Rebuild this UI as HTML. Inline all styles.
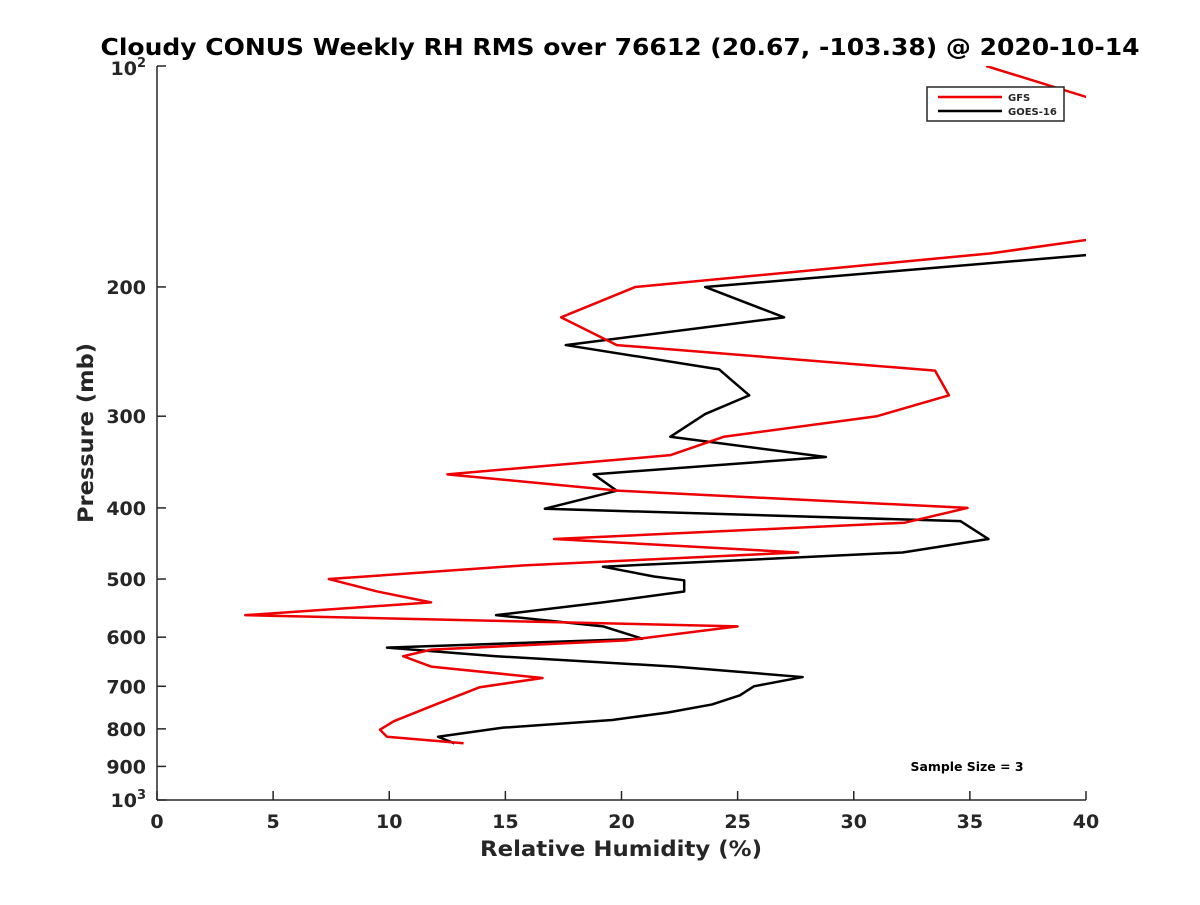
<!DOCTYPE html>
<html><head><meta charset="utf-8"><style>
body{margin:0;background:#fff}
svg text{font-family:"DejaVu Sans","Liberation Sans",sans-serif;font-weight:bold;fill:#262626}
</style></head><body>
<svg id="c" width="1200" height="900" xmlns="http://www.w3.org/2000/svg">
<rect width="1200" height="900" fill="#fff"/>
<text x="620" y="55" text-anchor="middle" font-size="23" textLength="1039" lengthAdjust="spacingAndGlyphs" style="fill:#000">Cloudy CONUS Weekly RH RMS over 76612 (20.67, -103.38) @ 2020-10-14</text>
<g id="axes"></g>
<defs><clipPath id="clip"><rect x="157" y="66" width="929" height="734"/></clipPath></defs>
<g id="series" clip-path="url(#clip)"></g>
<g>
<rect x="927" y="87" width="137" height="34" fill="#fff" stroke="#262626" stroke-width="1.5"/>
<line x1="938" y1="97" x2="1002" y2="97" stroke="#e00" stroke-width="2.5"/>
<text x="1008" y="101" font-size="10">GFS</text>
<line x1="938" y1="111" x2="1002" y2="111" stroke="#000" stroke-width="2.5"/>
<text x="1008" y="115" font-size="10">GOES-16</text>
</g>
<text x="967" y="771" text-anchor="middle" font-size="12" textLength="113" lengthAdjust="spacingAndGlyphs" style="fill:#000">Sample Size = 3</text>
<text x="621" y="856" text-anchor="middle" font-size="21" textLength="282" lengthAdjust="spacingAndGlyphs">Relative Humidity (%)</text>
<text transform="translate(93,433) rotate(-90)" text-anchor="middle" font-size="21" textLength="180" lengthAdjust="spacingAndGlyphs">Pressure (mb)</text>
</svg>
<script>
const xTicks=[0,5,10,15,20,25,30,35,40];
const yTicks=[100,200,300,400,500,600,700,800,900,1000];
const gfsRH=[35.7,53.7,35.9,20.6,17.4,19.8,33.5,34.1,31.0,24.4,22.1,12.5,19.9,34.9,32.2,17.1,27.6,15.8,7.4,9.5,11.8,3.8,25.0,20.2,11.8,10.6,11.8,16.6,13.9,12.0,10.2,9.6,9.9,13.2];
const gfsP=[100,150,180,200,220,240,260,281,300,320,339,360,379,400,419,441,460,479,500,520,538,560,580,606,624,637,658,682,702,741,781,802,820,837];
const goesRH=[45,40,23.6,27.0,17.6,24.2,25.5,23.6,22.1,28.8,18.8,19.8,16.7,34.6,35.8,32.1,19.2,21.4,22.7,22.7,19.2,14.6,19.2,20.9,9.9,14.6,22.3,27.8,25.7,25.1,23.9,22.0,19.6,14.9,12.1,12.8];
const goesP=[176,181,200,220,240,259,281,298,320,341,360,379,401,417,441,460,481,496,502,520,538,560,580,603,620,637,658,680,700,720,741,760,778,797,820,837];
const NS="http://www.w3.org/2000/svg";
const X=v=>157+v*(929/40);
const Y=p=>66+734*Math.log10(p/100);
function mk(t,a,parent){const e=document.createElementNS(NS,t);for(const k in a)e.setAttribute(k,a[k]);parent.appendChild(e);return e;}
const ax=document.getElementById('axes');
const xl=mk('line',{x1:157,y1:800,x2:1086,y2:800,stroke:'#262626','stroke-width':1.5},ax);


const yl=mk('line',{x1:157,y1:66,x2:157,y2:800,stroke:'#262626','stroke-width':1.5},ax);


xTicks.forEach(v=>{
 mk('line',{x1:X(v),y1:800,x2:X(v),y2:791,stroke:'#262626','stroke-width':1.5},ax);
 const t=mk('text',{x:X(v),y:828,'text-anchor':'middle','font-size':19},ax);
 t.textContent=v;
 
 
});
yTicks.forEach(p=>{
 mk('line',{x1:157,y1:Y(p),x2:166,y2:Y(p),stroke:'#262626','stroke-width':1.5},ax);
 const t=mk('text',{x:146,y:Y(p)+7,'text-anchor':'end','font-size':19},ax);
 
 
 if(p===100||p===1000){
   t.setAttribute('y',Y(p)+(p===100?9:7));
   t.textContent='10';
   const s=mk('tspan',{dy:-8,'font-size':13},t);s.textContent=p===100?'2':'3';
 } else t.textContent=p;
});
const sg=document.getElementById('series');
function draw(rh,p,col,name){
 const pl=mk('polyline',{points:rh.map((v,i)=>X(v)+','+Y(p[i])).join(' '),fill:'none',stroke:col,'stroke-width':2.5,'stroke-linejoin':'round'},sg);
 
 
}
draw(goesRH,goesP,'#000','goes16-line');
draw(gfsRH,gfsP,'#e00','gfs-line');
</script>
</body></html>
